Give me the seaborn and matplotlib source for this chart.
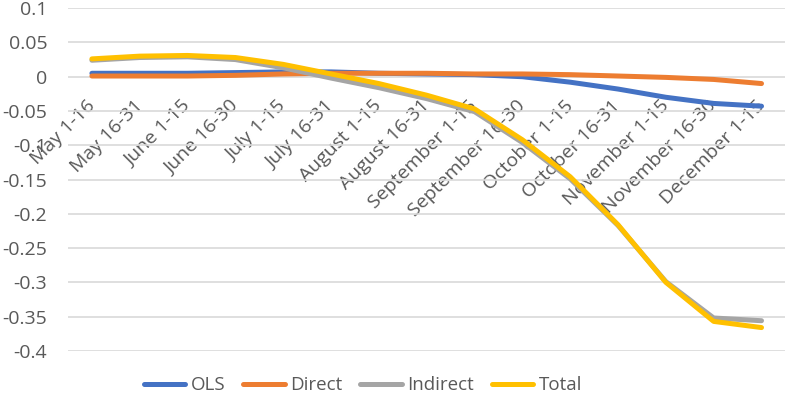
import numpy as np
import pandas as pd
import seaborn as sns
import matplotlib.pyplot as plt

periods = ["May 1-16", "May 16-31", "June 1-15", "June 16-30", "July 1-15",
           "July 16-31", "August 1-15", "August 16-31", "September 1-15",
           "September 16-30", "October 1-15", "October 16-31", "November 1-15",
           "November 16-30", "December 1-15"]

ols = [0.005, 0.005, 0.005, 0.006, 0.007, 0.007, 0.005, 0.004, 0.003,
       0.000, -0.008, -0.018, -0.030, -0.039, -0.043]
direct = [0.001, 0.001, 0.001, 0.002, 0.004, 0.005, 0.005, 0.005, 0.004,
          0.004, 0.003, 0.001, -0.001, -0.004, -0.010]
indirect = [0.024, 0.028, 0.029, 0.025, 0.013, -0.002, -0.016, -0.032, -0.051,
            -0.096, -0.149, -0.217, -0.299, -0.352, -0.356]
total = [0.026, 0.030, 0.031, 0.028, 0.018, 0.004, -0.010, -0.027, -0.047,
         -0.092, -0.146, -0.216, -0.300, -0.357, -0.366]

series_names = ["OLS", "Direct", "Indirect", "Total"]
colors = ["#4472C4", "#ED7D31", "#A5A5A5", "#FFC000"]

df = pd.DataFrame({"OLS": ols, "Direct": direct, "Indirect": indirect, "Total": total})
df["pos"] = np.arange(len(periods))
long = df.melt(id_vars="pos", var_name="series", value_name="value")

sns.set_style("white")
plt.rcParams["font.family"] = ["Open Sans", "DejaVu Sans"]

fig, ax = plt.subplots(figsize=(7.87, 4.08), dpi=100)
fig.subplots_adjust(left=0.0864, right=0.998, top=0.980, bottom=0.140)

sns.lineplot(data=long, x="pos", y="value", hue="series", hue_order=series_names,
             palette=colors, linewidth=3.6, sort=False, ax=ax, legend=False,
             solid_capstyle="round")

ax.set_xlim(-0.5, len(periods) - 0.5)
ax.set_ylim(-0.4, 0.1)
ax.set_yticks(np.arange(-0.4, 0.1001, 0.05))
ax.set_yticklabels(["-0.4", "-0.35", "-0.3", "-0.25", "-0.2", "-0.15", "-0.1",
                    "-0.05", "0", "0.05", "0.1"])
ax.yaxis.grid(True, color="#D9D9D9", linewidth=1.2)
ax.set_axisbelow(True)
for s in ax.spines.values():
    s.set_visible(False)

# category labels sit just under the zero line, like excel does
ax.spines["bottom"].set_position(("data", 0))
ax.set_xticks(np.arange(len(periods)))
ax.set_xticklabels(periods, rotation=45, ha="right", va="center",
                   rotation_mode="anchor")

ax.tick_params(axis="both", length=0, labelsize=14, colors="#595959")
ax.tick_params(axis="y", pad=15)
ax.tick_params(axis="x", pad=19)
ax.set_xlabel("")
ax.set_ylabel("")

handles = [plt.Line2D([], [], color=c, lw=3.6, solid_capstyle="round") for c in colors]
fig.legend(handles, series_names, loc="center", bbox_to_anchor=(363 / 787, 0.056),
           ncol=4, frameon=False, fontsize=13.5, handlelength=2.2,
           handletextpad=0.3, columnspacing=0.95, labelcolor="#595959")

fig.savefig("out.png", dpi=100)
